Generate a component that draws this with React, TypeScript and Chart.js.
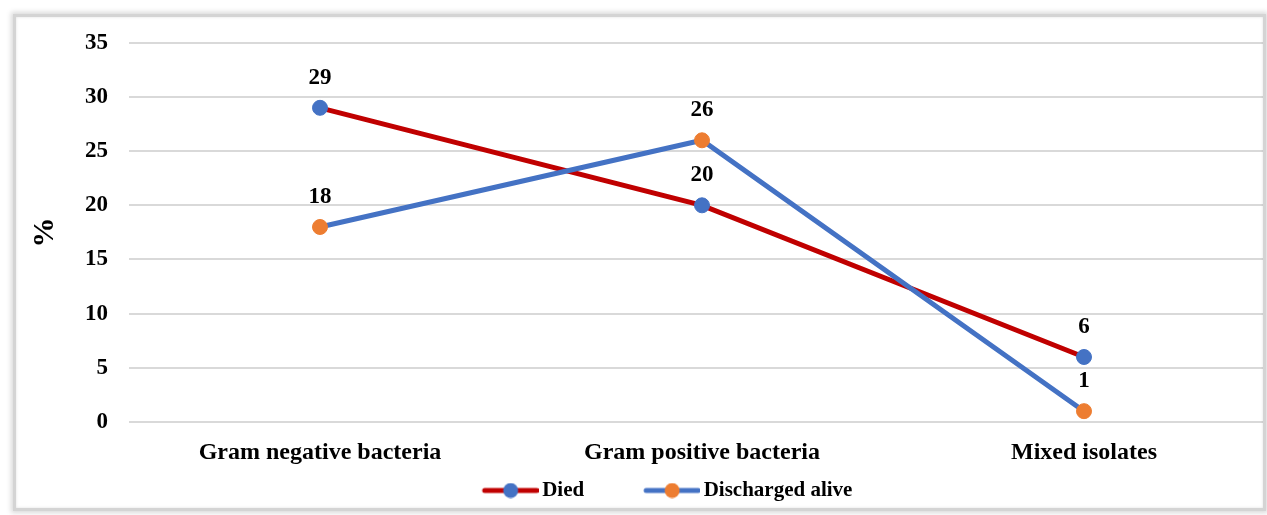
import React, { useEffect, useRef } from 'react';
import { Chart, registerables } from 'chart.js';

Chart.register(...registerables);

const categories = ['Gram negative bacteria', 'Gram positive bacteria', 'Mixed isolates'];
const seriesNames = ['Died', 'Discharged alive'];
const diedValues = [29, 20, 6];
const dischargedValues = [18, 26, 1];
const yMin = 0;
const yMax = 35;
const yStep = 5;

const RED = '#C00000';
const BLUE = '#4472C4';
const ORANGE = '#ED7D31';
const FONT = '"Liberation Serif", "Times New Roman", serif';

// Legend icon: line with a dot; the blank left part of the image gives the gap between items.
function makeLegendIcon(lineColor: string, dotColor: string) {
  const c = document.createElement('canvas');
  c.width = 118;
  c.height = 16;
  const g = c.getContext('2d')!;
  g.strokeStyle = lineColor;
  g.lineWidth = 5;
  g.lineCap = 'round';
  g.beginPath();
  g.moveTo(64, 8);
  g.lineTo(116, 8);
  g.stroke();
  g.fillStyle = dotColor;
  g.beginPath();
  g.arc(90, 8, 7.5, 0, Math.PI * 2);
  g.fill();
  return c;
}

const dataLabels = {
  id: 'dataLabels',
  afterDatasetsDraw(chart: any) {
    const ctx = chart.ctx;
    ctx.save();
    ctx.font = `bold 23px ${FONT}`;
    ctx.fillStyle = '#000';
    ctx.textAlign = 'center';
    ctx.textBaseline = 'alphabetic';
    chart.data.datasets.forEach((ds: any, i: number) => {
      const meta = chart.getDatasetMeta(i);
      meta.data.forEach((pt: any, j: number) => {
        ctx.fillText(String(ds.data[j]), pt.x, pt.y - 24);
      });
    });
    ctx.restore();
  },
};

export default function App() {
  const ref = useRef<HTMLCanvasElement | null>(null);

  useEffect(() => {
    if (!ref.current) return;
    const icons = [makeLegendIcon(RED, BLUE), makeLegendIcon(BLUE, ORANGE)];
    const chart = new Chart(ref.current, {
      type: 'line',
      data: {
        labels: categories,
        datasets: [
          {
            label: seriesNames[0],
            data: diedValues,
            borderColor: RED,
            backgroundColor: BLUE,
            pointBackgroundColor: BLUE,
            pointBorderColor: BLUE,
            pointRadius: 7.5,
            pointBorderWidth: 1,
            borderWidth: 5,
            tension: 0,
            order: 1,
          },
          {
            label: seriesNames[1],
            data: dischargedValues,
            borderColor: BLUE,
            backgroundColor: ORANGE,
            pointBackgroundColor: ORANGE,
            pointBorderColor: ORANGE,
            pointRadius: 7.5,
            pointBorderWidth: 1,
            borderWidth: 5,
            tension: 0,
            order: 0,
          },
        ],
      },
      options: {
        responsive: false,
        animation: false,
        layout: { autoPadding: false, padding: { left: 0, top: 21, right: 0, bottom: 0 } },
        plugins: {
          tooltip: { enabled: false },
          legend: {
            position: 'bottom',
            labels: {
              usePointStyle: true,
              pointStyleWidth: 104,
              padding: 5,
              color: '#000',
              font: { family: FONT, size: 21, weight: 'bold' },
              generateLabels: (ch: any) =>
                ch.data.datasets.map((ds: any, i: number) => ({
                  text: ds.label,
                  pointStyle: icons[i],
                  fillStyle: 'rgba(0,0,0,0)',
                  strokeStyle: 'rgba(0,0,0,0)',
                  lineWidth: 0,
                  hidden: false,
                  datasetIndex: i,
                  fontColor: '#000',
                })),
            },
          },
        },
        scales: {
          x: {
            offset: true,
            grid: { display: false, drawTicks: false },
            border: { display: false },
            ticks: {
              color: '#000',
              padding: 16,
              maxRotation: 0,
              autoSkip: false,
              font: { family: FONT, size: 24, weight: 'bold' },
            },
            afterFit: (s: any) => {
              s.height = 53;
            },
          },
          y: {
            min: yMin,
            max: yMax,
            ticks: {
              stepSize: yStep,
              padding: 21,
              color: '#000',
              font: { family: FONT, size: 23, weight: 'bold' },
            },
            grid: { color: '#d9d9d9', lineWidth: 2, drawTicks: false },
            border: { display: false },
            title: {
              display: true,
              text: '%',
              color: '#000',
              font: { family: FONT, size: 30, weight: 'bold' },
              padding: { top: 22, bottom: 0 },
            },
            afterFit: (s: any) => {
              s.width = 124;
            },
          },
        },
      },
      plugins: [dataLabels],
    } as any);
    return () => chart.destroy();
  }, []);

  return (
    <div
      style={{
        position: 'absolute',
        left: 0,
        top: 0,
        width: 1267,
        height: 515,
        overflow: 'hidden',
        background: '#fff',
      }}
    >
      <div
        style={{
          position: 'absolute',
          left: 16,
          top: 17,
          width: 1247,
          height: 491,
          overflow: 'hidden',
        }}
      >
        <canvas
          ref={ref}
          width={1270}
          height={503}
          style={{ position: 'absolute', left: -11, top: -9, width: 1270, height: 503 }}
        />
      </div>
      <div
        style={{
          position: 'absolute',
          left: 13,
          top: 14,
          width: 1253,
          height: 497,
          border: '3px solid #d4d4d4',
          boxSizing: 'border-box',
          boxShadow: '0 0 5px 2px rgba(0,0,0,0.15), inset 0 0 3px rgba(0,0,0,0.12)',
          pointerEvents: 'none',
        }}
      />
    </div>
  );
}
